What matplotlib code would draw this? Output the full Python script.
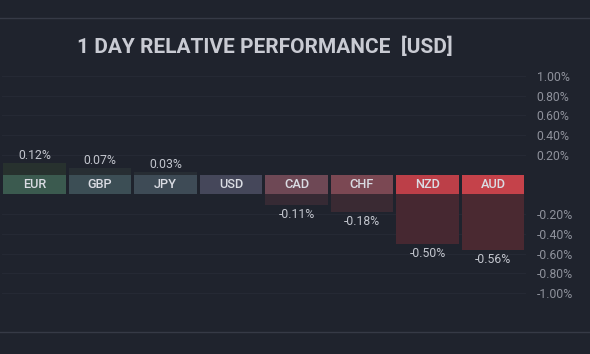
import matplotlib.pyplot as plt
from matplotlib.lines import Line2D

currencies = ["EUR", "GBP", "JPY", "USD", "CAD", "CHF", "NZD", "AUD"]
changes = [0.12, 0.07, 0.03, 0.00, -0.11, -0.18, -0.50, -0.56]
tick_values = [1.0, 0.8, 0.6, 0.4, 0.2, -0.2, -0.4, -0.6, -0.8, -1.0]

box_colors = ["#3b5a4f", "#3c4e55", "#3e4b56", "#45475a", "#6e4855",
              "#7b4853", "#bc3f48", "#c5424a"]
bar_colors = ["#27312e", "#272e33", "#272d34", "#282b35", "#362a34",
              "#3a2a33", "#462831", "#4a2931"]

BG = "#1f232d"
HALF = 0.1  # half height of the label band, in % units

plt.rcParams["font.family"] = ["Roboto", "DejaVu Sans"]

fig = plt.figure(figsize=(5.9, 3.54), dpi=100, facecolor=BG)
ax = fig.add_axes([1.75 / 590, 43 / 354, 524 / 590, 250 / 354])
ax.set_facecolor(BG)

for i, (cur, v) in enumerate(zip(currencies, changes)):
    if v > 0:
        ax.bar(i, v, bottom=HALF, width=0.96, color=bar_colors[i], zorder=2)
        ax.text(i, HALF + v + 0.005, f"{v:.2f}%", ha="center", va="bottom",
                color="#c3c6ce", fontsize=8.8)
    elif v < 0:
        ax.bar(i, v, bottom=-HALF, width=0.96, color=bar_colors[i], zorder=2)
        ax.text(i, -HALF + v - 0.03, f"{v:.2f}%", ha="center", va="top",
                color="#c3c6ce", fontsize=8.8)
    ax.bar(i, 2 * HALF, bottom=-HALF, width=0.96, color=box_colors[i], zorder=3)
    ax.text(i, 0, cur, ha="center", va="center", color="#dadce3",
            fontsize=9.2, fontweight="medium", zorder=4)

shifted = [t + HALF if t > 0 else t - HALF for t in tick_values]
ax.set_yticks(shifted)
ax.set_yticklabels([f"{t:.2f}%" for t in tick_values])
ax.yaxis.tick_right()
ax.tick_params(axis="y", length=0, pad=8, labelcolor="#8e919b", labelsize=8.8)
ax.tick_params(axis="x", bottom=False, labelbottom=False)
for t in shifted:
    ax.axhline(t, color="#252934", lw=0.8, zorder=1)

ax.set_xlim(-0.5, len(currencies) - 0.5)
ax.set_ylim(-1.283, 1.252)
for s in ax.spines.values():
    s.set_visible(False)

fig.text(265 / 590, 1 - 47 / 354, "1 DAY RELATIVE PERFORMANCE  [USD]",
         ha="center", va="center", color="#c9cbd3", fontsize=15,
         fontweight="bold")

for ypx in (18, 332):
    fig.add_artist(Line2D([0, 1], [1 - ypx / 354] * 2, color="#363a46", lw=1))

fig.savefig("out.png", dpi=100, facecolor=BG)
